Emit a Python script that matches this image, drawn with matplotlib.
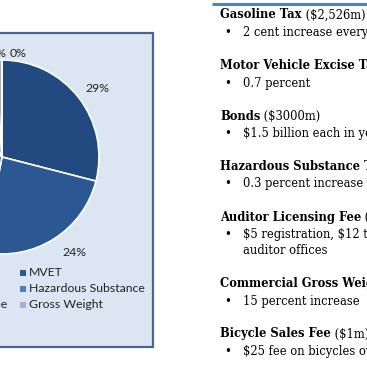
import numpy as np
import matplotlib.pyplot as plt
from matplotlib.patches import Rectangle

# pie data (slices run clockwise from 12 o'clock)
sources = ['Gasoline Tax', 'MVET', 'Bonds', 'Hazardous Substance',
           'Auditor Licensing Fee', 'Gross Weight', 'Bicycle Sales Fee']
shares = [29, 24, 34, 5, 7, 1, 0]
colors = ['#234a80', '#2b5793', '#3a6aa8', '#4a7fc0', '#7f9fcf', '#a5b1c8', '#c6d0e2']

# text column on the right
headings = [
    ('Gasoline Tax', ' ($2,526m)'),
    ('Motor Vehicle Excise Tax', ' ($1,200m)'),
    ('Bonds', ' ($3000m)'),
    ('Hazardous Substance Tax', ' ($600m)'),
    ('Auditor Licensing Fee', ' ($700m)'),
    ('Commercial Gross Weight', ' ($100m)'),
    ('Bicycle Sales Fee', ' ($1m)'),
]
bullets = [
    ['2 cent increase every year'],
    ['0.7 percent'],
    ['$1.5 billion each in years'],
    ['0.3 percent increase'],
    ['$5 registration, $12 title fee at', 'auditor offices'],
    ['15 percent increase'],
    ['$25 fee on bicycles over $200'],
]

W = H = 367
fig = plt.figure(figsize=(W / 100, H / 100), dpi=100)
ax = fig.add_axes([0, 0, 1, 1])
ax.set_xlim(0, W)
ax.set_ylim(H, 0)
ax.axis('off')

sans = ['Lato', 'DejaVu Sans']
serif = ['DejaVu Serif']

# chart panel
ax.add_patch(Rectangle((-5, 33), 158, 314, facecolor='#dce6f2',
                       edgecolor='#4a6592', linewidth=1.6, zorder=1))

# pie, centre (2,157) radius 97 px
cx, cy, r = 2, 157, 97
pax = fig.add_axes([(cx - r) / W, (H - cy - r) / H, 2 * r / W, 2 * r / H])
wedges, _, autotexts = pax.pie(
    shares, colors=colors, startangle=90, counterclock=False,
    autopct='%1.0f%%', pctdistance=1.22,
    wedgeprops=dict(edgecolor='white', linewidth=1.2),
    textprops=dict(fontsize=8.8, family=sans, color='#222222'))
pax.set_aspect('equal')
pax.set_xlim(-1, 1)
pax.set_ylim(-1, 1)
pax.axis('off')
# label placement roughly as in the original
autotexts[0].set_position((0.98, 0.71))
autotexts[1].set_position((0.75, -0.98))
autotexts[-1].set_position((0.17, 1.07))
autotexts[-2].set_position((-0.05, 1.07))
autotexts[-3].set_position((-0.40, 1.07))
autotexts[-4].set_position((-0.75, 1.07))

# legend, two columns row-wise
for i, (name, c) in enumerate(zip(sources, colors)):
    row, col = divmod(i, 2)
    x0 = 20 if col == 1 else -118
    y0 = 273 + row * 16
    ax.add_patch(Rectangle((x0, y0 - 3), 6, 6, facecolor=c, edgecolor='none', zorder=3))
    ax.text(x0 + 9, y0, name, fontsize=8.8, family=sans, va='center',
            ha='left', color='#222222', zorder=3)

# blue rule above the text column
ax.plot([212, W], [4, 4], color='#4f81bd', linewidth=2.2, solid_capstyle='butt')

fig.canvas.draw()
renderer = fig.canvas.get_renderer()
y = 15
for (bold, rest), lines in zip(headings, bullets):
    t = ax.text(220, y, bold, fontsize=8.3, family=serif, fontweight='bold',
                va='center', ha='left', color='black', parse_math=False)
    bb = t.get_window_extent(renderer)
    ax.text(bb.x1, y, rest, fontsize=8.3, family=serif, va='center', ha='left',
            color='black', parse_math=False)
    yy = y + 17.5
    for j, line in enumerate(lines):
        if j == 0:
            ax.text(224, yy, '\u2022', fontsize=8.3, family=serif, va='center',
                    ha='left', color='black')
        ax.text(243, yy, line, fontsize=8.3, family=serif, va='center',
                ha='left', color='black', parse_math=False)
        yy += 16
    y = yy + 17

fig.savefig('out.png', dpi=100)
